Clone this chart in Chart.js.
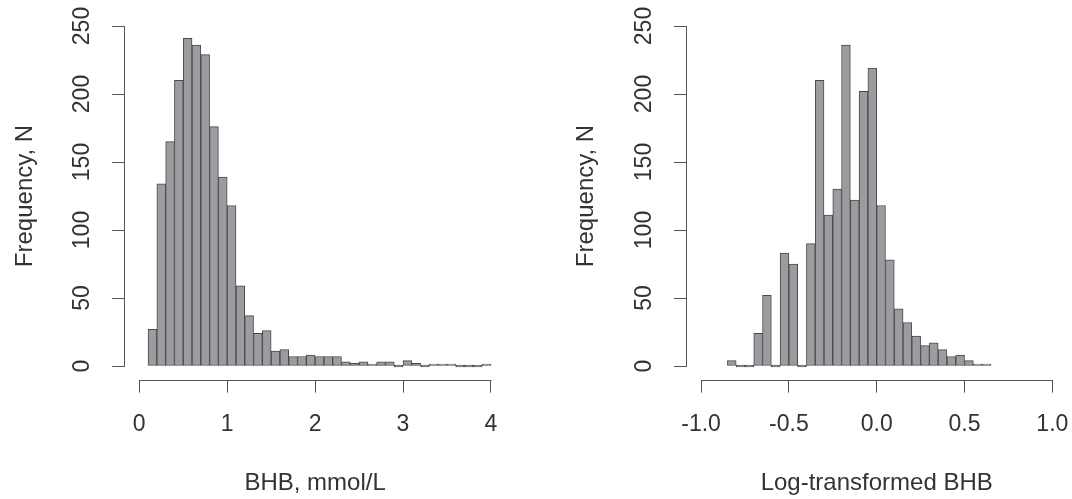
<!DOCTYPE html>
<html>
<head>
<meta charset="utf-8">
<title>BHB histograms</title>
<script src="https://cdn.jsdelivr.net/npm/chart.js@4.4.1/dist/chart.umd.min.js"></script>
<style>
    body { margin: 0; background: #fff; }
    #painel { position: relative; width: 1072px; height: 499px; }
    #painel canvas { position: absolute; left: 0; top: 0; }
</style>
</head>
<body>
<div id="painel">
    <canvas id="graficoBHB" width="1072" height="499"></canvas>
    <canvas id="graficoLogBHB" width="1072" height="499"></canvas>
</div>
<script>
// left panel: BHB, classes of 0.1 mmol/L (start of each class)
const bhbBins = [0.1, 0.2, 0.3, 0.4, 0.5, 0.6, 0.7, 0.8, 0.9, 1.0,
    1.1, 1.2, 1.3, 1.4, 1.5, 1.6, 1.7, 1.8, 1.9, 2.0,
    2.1, 2.2, 2.3, 2.4, 2.5, 2.6, 2.7, 2.8, 2.9, 3.0,
    3.1, 3.2, 3.3, 3.4, 3.5, 3.6, 3.7, 3.8, 3.9];
const bhbCounts = [27, 134, 165, 210, 241, 236, 229, 176, 139, 118,
    59, 37, 24, 26, 11, 12, 7, 7, 8, 7,
    7, 7, 3, 2, 3, 1, 3, 3, 0, 4,
    2, 0, 1, 1, 1, 0, 0, 0, 1];
const bhbBinWidth = 0.1;
const bhbTicks = [0, 1, 2, 3, 4];
const bhbTickLabels = ['0', '1', '2', '3', '4'];

// right panel: log-transformed BHB, classes of 0.05
const logBins = [-0.85, -0.80, -0.75, -0.70, -0.65, -0.60, -0.55, -0.50, -0.45, -0.40,
    -0.35, -0.30, -0.25, -0.20, -0.15, -0.10, -0.05, 0.00, 0.05, 0.10,
    0.15, 0.20, 0.25, 0.30, 0.35, 0.40, 0.45, 0.50, 0.55, 0.60];
const logCounts = [4, 0, 0, 24, 52, 0, 83, 75, 0, 90,
    210, 111, 130, 236, 122, 202, 219, 118, 78, 42,
    32, 22, 15, 17, 12, 7, 8, 4, 1, 1];
const logBinWidth = 0.05;
const logTicks = [-1.0, -0.5, 0.0, 0.5, 1.0];
const logTickLabels = ['-1.0', '-0.5', '0.0', '0.5', '1.0'];

const freqTicks = [0, 50, 100, 150, 200, 250];
const freqTickLabels = ['0', '50', '100', '150', '200', '250'];

const corBarra = '#9b9ca0';
const corBorda = '#4a4a4a';
const corEixo = '#555555';
const corTexto = '#333333';
const fonte = "'Liberation Sans', Arial, sans-serif";

Chart.defaults.font.family = fonte;
Chart.defaults.color = corTexto;

// R style axis line: only from first to last tick
const linhaEixoR = {
    id: 'linhaEixoR',
    afterDraw(chart) {
        const ctx = chart.ctx;
        const sx = chart.scales.x;
        const sy = chart.scales.y;
        const xt = sx.ticks;
        const yt = sy.ticks;
        const yBase = Math.round(sx.top) + 0.5;
        const xBase = Math.round(sy.right) - 0.5;
        ctx.save();
        ctx.strokeStyle = corEixo;
        ctx.lineWidth = 1;
        ctx.beginPath();
        ctx.moveTo(sx.getPixelForValue(xt[0].value), yBase);
        ctx.lineTo(sx.getPixelForValue(xt[xt.length - 1].value) + 0.5, yBase);
        ctx.moveTo(xBase, sy.getPixelForValue(yt[0].value) + 0.5);
        ctx.lineTo(xBase, sy.getPixelForValue(yt[yt.length - 1].value));
        ctx.stroke();
        ctx.restore();
    }
};

function histData(bins, counts, width) {
    return bins.map((inicio, i) => ({ x: inicio + width / 2, y: counts[i] }));
}

function criarHistograma(id, cfg) {
    const ctx = document.getElementById(id).getContext('2d');
    return new Chart(ctx, {
        type: 'bar',
        data: {
            datasets: [{
                data: histData(cfg.bins, cfg.counts, cfg.binWidth),
                backgroundColor: corBarra,
                borderColor: corBorda,
                borderWidth: 1,
                borderSkipped: false,
                minBarLength: 2, // empty classes still show as a flat line, like R
                barPercentage: 1,
                categoryPercentage: 1
            }]
        },
        options: {
            responsive: false,
            animation: false,
            devicePixelRatio: 1,
            events: [],
            layout: {
                padding: { left: cfg.padLeft, right: cfg.padRight, top: 12.4, bottom: 0 }
            },
            plugins: {
                legend: { display: false },
                tooltip: { enabled: false }
            },
            scales: {
                x: {
                    type: 'linear',
                    min: cfg.xMin,
                    max: cfg.xMax,
                    offset: false,
                    afterBuildTicks: s => { s.ticks = cfg.xTicks.map(v => ({ value: v })); },
                    afterFit: s => { s.height = 119.4; s.paddingLeft = 0; s.paddingRight = 0; },
                    border: { display: false },
                    grid: {
                        offset: false,
                        drawOnChartArea: false,
                        drawTicks: true,
                        tickLength: 13,
                        color: corEixo,
                        lineWidth: 1
                    },
                    ticks: {
                        autoSkip: false,
                        maxRotation: 0,
                        padding: 18.6,
                        font: { size: 23 },
                        color: corTexto,
                        callback: (v, i) => cfg.xTickLabels[i]
                    },
                    title: {
                        display: true,
                        text: cfg.xTitle,
                        font: { size: 24 },
                        color: corTexto,
                        padding: { top: 0, bottom: 1 }
                    }
                },
                y: {
                    type: 'linear',
                    min: -10,
                    max: 260,
                    afterBuildTicks: s => { s.ticks = freqTicks.map(v => ({ value: v })); },
                    afterFit: s => { s.width = 125.2; s.paddingTop = 0; s.paddingBottom = 0; },
                    border: { display: false },
                    grid: {
                        drawOnChartArea: false,
                        drawTicks: true,
                        tickLength: 13,
                        color: corEixo,
                        lineWidth: 1
                    },
                    ticks: {
                        autoSkip: false,
                        minRotation: 90,
                        maxRotation: 90,
                        crossAlign: 'center',
                        padding: 10,
                        font: { size: 23 },
                        color: corTexto,
                        callback: (v, i) => freqTickLabels[i]
                    },
                    title: {
                        display: true,
                        text: 'Frequency, N',
                        font: { size: 24 },
                        color: corTexto,
                        padding: { top: 10.6, bottom: 0 }
                    }
                }
            }
        },
        plugins: [linhaEixoR]
    });
}

let graficoBHB = criarHistograma('graficoBHB', {
    bins: bhbBins,
    counts: bhbCounts,
    binWidth: bhbBinWidth,
    xMin: -0.16,
    xMax: 4.16,
    xTicks: bhbTicks,
    xTickLabels: bhbTickLabels,
    xTitle: 'BHB, mmol/L',
    padLeft: 0,
    padRight: 567
});

let graficoLogBHB = criarHistograma('graficoLogBHB', {
    bins: logBins,
    counts: logCounts,
    binWidth: logBinWidth,
    xMin: -1.08,
    xMax: 1.08,
    xTicks: logTicks,
    xTickLabels: logTickLabels,
    xTitle: 'Log-transformed BHB',
    padLeft: 561.8,
    padRight: 5.6
});
</script>
</body>
</html>
